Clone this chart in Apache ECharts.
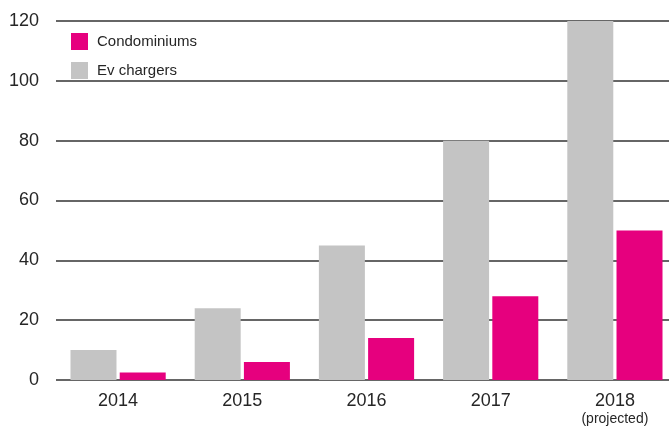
<!DOCTYPE html>
<html>
<head>
<meta charset="utf-8">
<script src="https://cdn.jsdelivr.net/npm/echarts@6/dist/echarts.min.js"></script>
<style>
html,body{margin:0;padding:0;background:#fff;overflow:hidden;}
#chart{width:690px;height:427px;}
</style>
</head>
<body>
<div id="chart"></div>
<script>
const categories = ['2014', '2015', '2016', '2017', '2018'];
const evChargers = [10, 24, 45, 80, 120];
const condominiums = [2.5, 6, 14, 28, 50];
const yTicks = [0, 20, 40, 60, 80, 100, 120];
const projectedNote = '(projected)';

const chart = echarts.init(document.getElementById('chart'));
const font = '"Liberation Sans", Arial, Helvetica, sans-serif';
chart.setOption({
  animation: false,
  backgroundColor: '#fff',
  textStyle: { fontFamily: font },
  grid: { left: 56, top: 21, width: 621, height: 359, containLabel: false },
  legend: {
    orient: 'vertical',
    left: 66,
    top: 28,
    itemWidth: 17,
    itemHeight: 17,
    itemGap: 12,
    icon: 'rect',
    data: ['Condominiums', 'Ev chargers'],
    textStyle: { fontFamily: font, fontSize: 15, color: '#262626', padding: [0, 0, 0, 4] }
  },
  xAxis: {
    type: 'category',
    data: categories,
    axisLine: { show: false },
    axisTick: { show: false },
    axisLabel: {
      interval: 0,
      margin: 11,
      fontFamily: font,
      fontSize: 18,
      color: '#262626',
      formatter: function (v) {
        return v === '2018' ? '{a|' + v + '}\n{b|' + projectedNote + '}' : '{a|' + v + '}';
      },
      rich: {
        a: { fontFamily: font, fontSize: 18, color: '#262626', lineHeight: 21 },
        b: { fontFamily: font, fontSize: 14, color: '#262626', lineHeight: 15 }
      }
    }
  },
  yAxis: {
    type: 'value',
    min: yTicks[0],
    max: yTicks[yTicks.length - 1],
    interval: yTicks[1] - yTicks[0],
    axisLine: { show: false },
    axisTick: { show: false },
    axisLabel: { margin: 17, fontFamily: font, fontSize: 18, color: '#262626' },
    splitLine: { show: true, lineStyle: { color: '#333', width: 1.5 } }
  },
  series: [
    {
      name: 'Ev chargers',
      type: 'bar',
      data: evChargers,
      barWidth: 46,
      barGap: '7%',
      itemStyle: { color: '#c4c4c4' }
    },
    {
      name: 'Condominiums',
      type: 'bar',
      data: condominiums,
      barWidth: 46,
      barGap: '7%',
      itemStyle: { color: '#e6007e' }
    }
  ]
});
</script>
</body>
</html>
